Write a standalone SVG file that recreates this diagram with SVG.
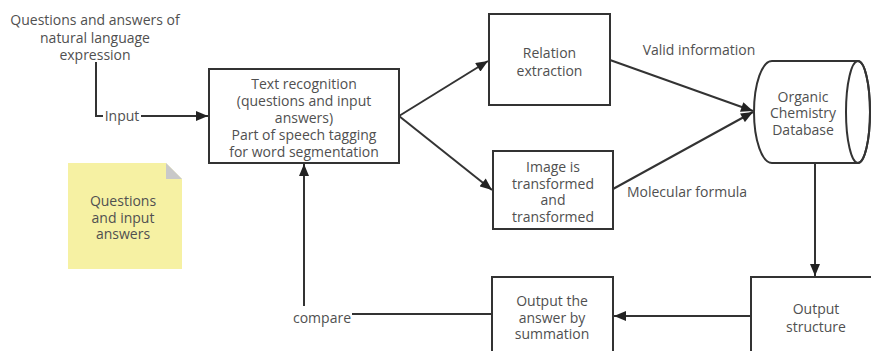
<svg xmlns="http://www.w3.org/2000/svg" width="871" height="351" viewBox="0 0 871 351">
  <defs>
    <marker id="arrow" viewBox="0 0 12 10" refX="12" refY="5" markerWidth="13" markerHeight="10" markerUnits="userSpaceOnUse" orient="auto">
      <path d="M0,0 L12,5 L0,10 z" fill="#222"/>
    </marker>
    <style>
      .box { fill: #fff; stroke: #333; stroke-width: 2; }
      .edge { fill: none; stroke: #333; stroke-width: 2; }
      .lbl { font-family: "Open Sans", "Noto Sans", sans-serif; font-size: 14px; fill: #505050; text-anchor: middle; }
      .note { fill: #f6f1a3; }
      .fold { fill: #c9c9c9; }
    </style>
  </defs>
  <rect width="871" height="351" fill="#fff"/>

  <!-- connectors -->
  <g id="connectors">
    <path class="edge" d="M96,62 V116 H103"/>
    <path class="edge" d="M141,116 H208" marker-end="url(#arrow)"/>
    <path class="edge" d="M399,116 L488,61" marker-end="url(#arrow)"/>
    <path class="edge" d="M399,116 L492,190" marker-end="url(#arrow)"/>
    <path class="edge" d="M610,60 L753,111" marker-end="url(#arrow)"/>
    <path class="edge" d="M613,189 L753,112" marker-end="url(#arrow)"/>
    <path class="edge" d="M815,163 V276" marker-end="url(#arrow)"/>
    <path class="edge" d="M751,316 H614" marker-end="url(#arrow)"/>
    <path class="edge" d="M492,314 H352"/>
    <path class="edge" d="M304,306 V164" marker-end="url(#arrow)"/>
    <text class="lbl" x="122" y="121">Input</text>
    <text class="lbl" x="699" y="55">Valid information</text>
    <text class="lbl" x="687" y="197">Molecular formula</text>
    <text class="lbl" x="322" y="322.5">compare</text>
  </g>

  <g id="source-text">
    <text class="lbl" x="95" y="25">Questions and answers of</text>
    <text class="lbl" x="95" y="42.5">natural language</text>
    <text class="lbl" x="95" y="59.5">expression</text>
  </g>

  <g id="text-recognition">
    <rect class="box" x="209" y="69" width="190" height="94"/>
    <text class="lbl" x="304" y="89">Text recognition</text>
    <text class="lbl" x="304" y="106">(questions and input</text>
    <text class="lbl" x="304" y="123">answers)</text>
    <text class="lbl" x="304" y="140">Part of speech tagging</text>
    <text class="lbl" x="304" y="157">for word segmentation</text>
  </g>

  <g id="relation-extraction">
    <rect class="box" x="489" y="14" width="121" height="91"/>
    <text class="lbl" x="549.5" y="58">Relation</text>
    <text class="lbl" x="549.5" y="76">extraction</text>
  </g>

  <g id="image-transform">
    <rect class="box" x="493" y="151" width="120" height="78"/>
    <text class="lbl" x="553" y="172">Image is</text>
    <text class="lbl" x="553" y="188.5">transformed</text>
    <text class="lbl" x="553" y="205">and</text>
    <text class="lbl" x="553" y="222">transformed</text>
  </g>

  <g id="database">
    <path class="box" d="M772,61 H858 A12,51 0 0 1 858,163 H772 A18,51 0 0 1 772,61 z"/>
    <ellipse cx="858" cy="112" rx="12" ry="51" fill="none" stroke="#333" stroke-width="2"/>
    <text class="lbl" x="803" y="102">Organic</text>
    <text class="lbl" x="803" y="118">Chemistry</text>
    <text class="lbl" x="803" y="134.5">Database</text>
  </g>

  <g id="output-structure">
    <rect class="box" x="751" y="277" width="130" height="90"/>
    <text class="lbl" x="816" y="314">Output</text>
    <text class="lbl" x="816" y="331.5">structure</text>
  </g>

  <g id="output-answer">
    <rect class="box" x="492" y="277" width="121" height="90"/>
    <text class="lbl" x="552" y="305.5">Output the</text>
    <text class="lbl" x="552" y="322.5">answer by</text>
    <text class="lbl" x="552" y="339">summation</text>
  </g>

  <g id="note">
    <path class="note" d="M68,163 H166 L182,179 V269 H68 z"/>
    <path class="fold" d="M166,163 L182,179 H166 z"/>
    <text class="lbl" x="123" y="205.5">Questions</text>
    <text class="lbl" x="123" y="222.5">and input</text>
    <text class="lbl" x="123" y="239">answers</text>
  </g>
</svg>
